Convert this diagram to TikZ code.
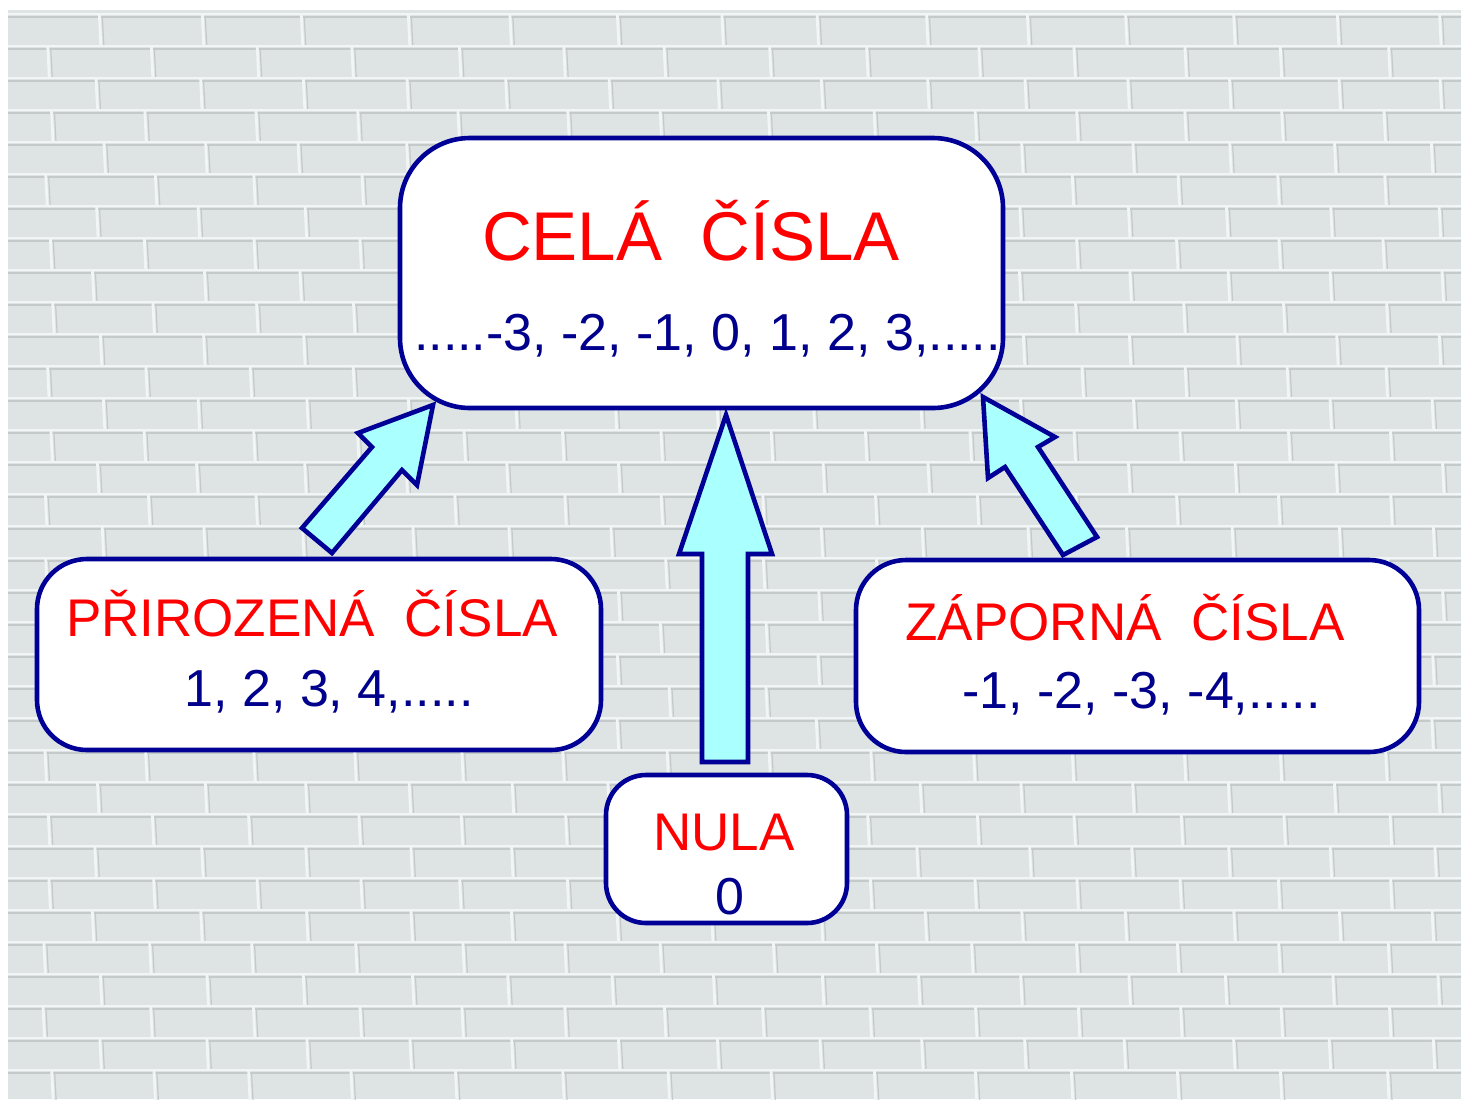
\documentclass[tikz,border=0pt]{standalone}
\usepackage{fontspec}
\setmainfont{Liberation Sans}
\definecolor{wall}{RGB}{222,227,227}
\definecolor{mortar}{RGB}{242,245,245}
\definecolor{brickshadow}{RGB}{196,202,202}
\definecolor{navy}{RGB}{0,0,150}
\definecolor{tred}{RGB}{255,0,0}
\definecolor{tblue}{RGB}{0,0,140}
\definecolor{acyan}{RGB}{170,255,255}
\begin{document}
\begin{tikzpicture}[x=0.5pt,y=-0.5pt,
  box/.style={draw=navy, line width=2.3pt, fill=white, rectangle, inner sep=0pt},
  title/.style={text=tred, anchor=base, inner sep=0pt, font=\fontsize{26.5}{30}\selectfont},
  nums/.style={text=tblue, anchor=base, inner sep=0pt, font=\fontsize{26}{30}\selectfont},
  barrow/.style={draw=navy, line width=2.3pt, fill=acyan, line join=miter}]
\useasboundingbox (0,0) rectangle (1461,1099);
\fill[white] (0,0) rectangle (1461,1099);
\fill[wall] (8,10) rectangle (1461,1099);
% brick wall
\pgfmathsetseed{7}
\begin{scope}
\clip (8,10) rectangle (1461,1099);
\foreach \r in {0,...,34} {
  \pgfmathsetmacro\yy{14+32*\r}
  \pgfmathsetmacro\off{mod(\r,2)*52-5}
  \draw[draw=brickshadow, line width=0.9pt] (8,\yy+3) -- (1461,\yy+3);
  \draw[draw=mortar, line width=1.4pt] (8,\yy) -- (1461,\yy);
  \foreach \c in {0,...,15} {
    \pgfmathsetmacro\xx{\off+103*\c+6*rand}
    \draw[draw=mortar, line width=1.4pt] (\xx, \yy) -- (\xx+1.5, \yy+32);
    \draw[draw=brickshadow, line width=0.6pt] (\xx+3, \yy+3) -- (\xx+4.5, \yy+32);
  }
}
\end{scope}
% boxes
\node[box, minimum width=301.5pt, minimum height=135pt, rounded corners=35pt] (cela) at (701.5,273) {};
\node[box, minimum width=282pt, minimum height=95.5pt, rounded corners=25pt] (prir) at (319,654.5) {};
\node[box, minimum width=281.5pt, minimum height=96pt, rounded corners=25pt] (zap) at (1137.5,656) {};
\node[box, minimum width=120.5pt, minimum height=74pt, rounded corners=20pt] (nula) at (726.5,849) {};
% texts
\node[title, font=\fontsize{34.5}{40}\selectfont] (celat) at (691,260) {CELÁ\ \ ČÍSLA};
\node[nums] (celan) at (707.5,350) {.....-3, -2, -1, 0, 1, 2, 3,.....};
\node[title] (prirt) at (312,636) {PŘIROZENÁ\ \ ČÍSLA};
\node[nums] (prirn) at (329,706) {1, 2, 3, 4,.....};
\node[title] (zapt) at (1125,640) {ZÁPORNÁ\ \ ČÍSLA};
\node[nums] (zapn) at (1141.5,708) {-1, -2, -3, -4,.....};
\node[title] (nulat) at (724,850) {NULA};
\node[nums] (nulan) at (729.5,914) {0};
% block arrows
\draw[barrow] (433,405) -- (358,433) -- (372,447) -- (302,528) -- (332,553) -- (402,470) -- (417,485) -- cycle;
\draw[barrow] (726,415) -- (772,554) -- (748,554) -- (748,762) -- (702,762) -- (702,554) -- (679,554) -- cycle;
\draw[barrow] (983,397) -- (1055,437) -- (1038,447) -- (1097,537) -- (1063,555) -- (1005,467) -- (988,478) -- cycle;
\end{tikzpicture}
\end{document}
